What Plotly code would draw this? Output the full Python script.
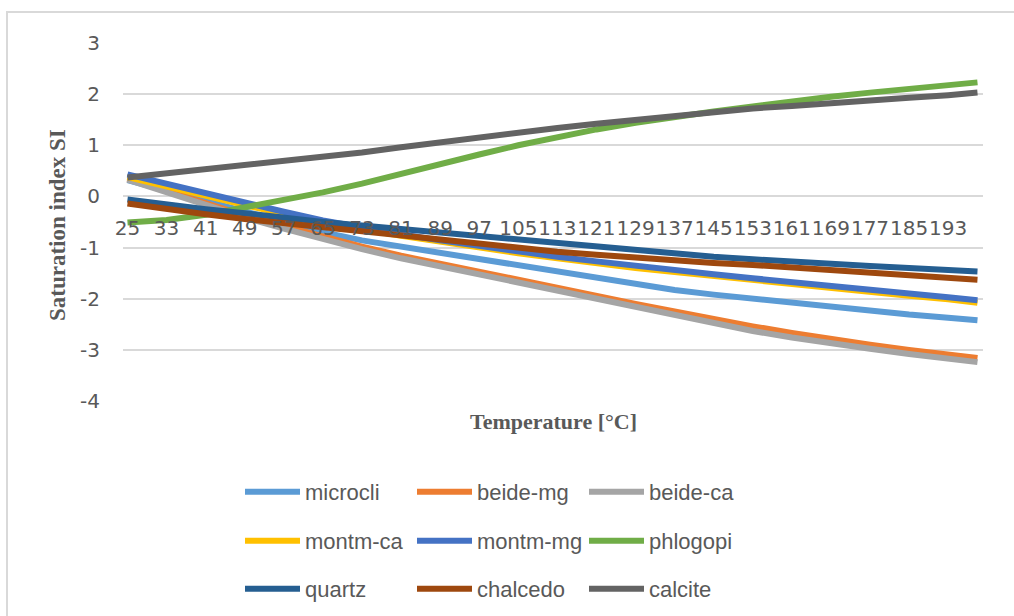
import plotly.graph_objects as go

# ---- data ----
temperature = [25, 33, 41, 49, 57, 65, 73, 81, 89, 97, 105, 113, 121, 129, 137,
               145, 153, 161, 169, 177, 185, 193, 199]
tick_temps = [25, 33, 41, 49, 57, 65, 73, 81, 89, 97, 105, 113, 121, 129, 137,
              145, 153, 161, 169, 177, 185, 193]
tick_labels = [str(t) for t in tick_temps]
y_ticks = [3, 2, 1, 0, -1, -2, -3, -4]
y_tick_labels = ["3", "2", "1", "0", "-1", "-2", "-3", "-4"]

microcli = [0.32, 0.12, -0.08, -0.28, -0.50, -0.70, -0.86, -0.98, -1.10, -1.22, -1.36, -1.48,
            -1.60, -1.72, -1.83, -1.92, -2.00, -2.08, -2.16, -2.24, -2.31, -2.37, -2.42]
beide_mg = [0.35, 0.10, -0.14, -0.37, -0.58, -0.79, -0.98, -1.16, -1.32, -1.47, -1.64, -1.79,
            -1.95, -2.10, -2.25, -2.40, -2.54, -2.67, -2.79, -2.90, -3.00, -3.09, -3.16]
beide_ca = [0.33, 0.08, -0.17, -0.41, -0.63, -0.84, -1.03, -1.21, -1.37, -1.52, -1.69, -1.85,
            -2.01, -2.17, -2.33, -2.49, -2.63, -2.76, -2.88, -2.98, -3.08, -3.17, -3.24]
montm_ca = [0.38, 0.19, 0.00, -0.17, -0.34, -0.50, -0.64, -0.77, -0.89, -1.00, -1.11, -1.21,
            -1.31, -1.40, -1.48, -1.56, -1.64, -1.72, -1.80, -1.87, -1.94, -2.01, -2.08]
montm_mg = [0.43, 0.24, 0.06, -0.12, -0.30, -0.47, -0.61, -0.74, -0.86, -0.97, -1.08, -1.18,
            -1.27, -1.36, -1.44, -1.52, -1.60, -1.68, -1.76, -1.83, -1.90, -1.97, -2.03]
phlogopi = [-0.51, -0.46, -0.36, -0.22, -0.06, 0.08, 0.25, 0.45, 0.64, 0.82, 1.00, 1.16,
            1.31, 1.44, 1.56, 1.66, 1.76, 1.86, 1.95, 2.03, 2.10, 2.17, 2.23]
quartz = [-0.06, -0.16, -0.25, -0.33, -0.42, -0.50, -0.57, -0.64, -0.71, -0.78, -0.85, -0.92,
          -0.99, -1.05, -1.11, -1.18, -1.23, -1.28, -1.32, -1.36, -1.40, -1.44, -1.47]
chalcedo = [-0.14, -0.25, -0.35, -0.44, -0.52, -0.61, -0.69, -0.77, -0.85, -0.93, -1.01, -1.08,
            -1.14, -1.20, -1.25, -1.30, -1.34, -1.39, -1.44, -1.49, -1.54, -1.59, -1.63]
calcite = [0.37, 0.45, 0.53, 0.60, 0.68, 0.77, 0.86, 0.96, 1.06, 1.16, 1.26, 1.34,
           1.42, 1.50, 1.58, 1.66, 1.72, 1.77, 1.83, 1.88, 1.93, 1.98, 2.03]

series_names = ["microcli", "beide-mg", "beide-ca", "montm-ca", "montm-mg",
                "phlogopi", "quartz", "chalcedo", "calcite"]
series_values = [microcli, beide_mg, beide_ca, montm_ca, montm_mg,
                 phlogopi, quartz, chalcedo, calcite]
series_colors = ["#5B9BD5", "#ED7D31", "#A5A5A5", "#FFC000", "#4472C4",
                 "#70AD47", "#255E91", "#9E480E", "#636363"]
legend_rows = ["legend", "legend", "legend", "legend2", "legend2", "legend2",
               "legend3", "legend3", "legend3"]

TEXT = "#595959"
GRID = "#D9D9D9"
TICK_FONT = dict(family="DejaVu Sans, sans-serif", size=20, color=TEXT)

fig = go.Figure()
for name, vals, col, lg in zip(series_names, series_values, series_colors, legend_rows):
    fig.add_trace(go.Scatter(
        x=temperature, y=vals, name=name, mode="lines",
        line=dict(color=col, width=6),
        legend=lg,
    ))

legend_common = dict(
    orientation="h", x=(240 - 123) / 860, xanchor="left", yanchor="middle",
    font=dict(family="Liberation Sans, Arial, sans-serif", size=22, color=TEXT),
    entrywidth=102, itemwidth=55, bgcolor="rgba(0,0,0,0)",
    traceorder="normal",
)

fig.update_layout(
    width=1014, height=616,
    margin=dict(l=123, r=31, t=43, b=215, autoexpand=False),
    paper_bgcolor="white", plot_bgcolor="white",
    showlegend=True,
    legend=dict(legend_common, y=(401 - 492) / 358),
    legend2=dict(legend_common, y=(401 - 541) / 358),
    legend3=dict(legend_common, y=(401 - 589) / 358),
    xaxis=dict(
        type="linear", range=[24.08, 200.13],
        anchor="free", position=4 / 7,
        tickmode="array", tickvals=tick_temps, ticktext=tick_labels,
        showgrid=False, zeroline=False, showline=False, ticks="",
        tickangle=0, ticklabelstandoff=18,
        tickfont=TICK_FONT,
    ),
    yaxis=dict(
        range=[-4, 3], tickmode="array", tickvals=y_ticks, ticktext=y_tick_labels,
        showgrid=True, gridcolor=GRID, gridwidth=2,
        zeroline=True, zerolinecolor=GRID, zerolinewidth=2,
        showline=False, ticks="", ticklabelstandoff=22,
        tickfont=TICK_FONT,
    ),
    annotations=[
        dict(text="<b>Saturation index SI</b>", xref="paper", yref="paper",
             x=(57 - 123) / 860, y=(401 - 225) / 358, textangle=-90,
             showarrow=False, xanchor="center", yanchor="middle",
             font=dict(family="Liberation Serif, Times New Roman, serif", size=23, color=TEXT)),
        dict(text="<b>Temperature [°C]</b>", xref="paper", yref="paper",
             x=(553 - 123) / 860, y=(401 - 421) / 358,
             showarrow=False, xanchor="center", yanchor="middle",
             font=dict(family="Liberation Serif, Times New Roman, serif", size=22, color=TEXT)),
    ],
    shapes=[
        dict(type="rect", xref="paper", yref="paper",
             x0=(7 - 123) / 860, x1=(1030 - 123) / 860,
             y0=(401 - 640) / 358, y1=(401 - 12) / 358,
             line=dict(color=GRID, width=2), fillcolor="rgba(0,0,0,0)", layer="below"),
    ],
)

fig.write_html("out.html")
